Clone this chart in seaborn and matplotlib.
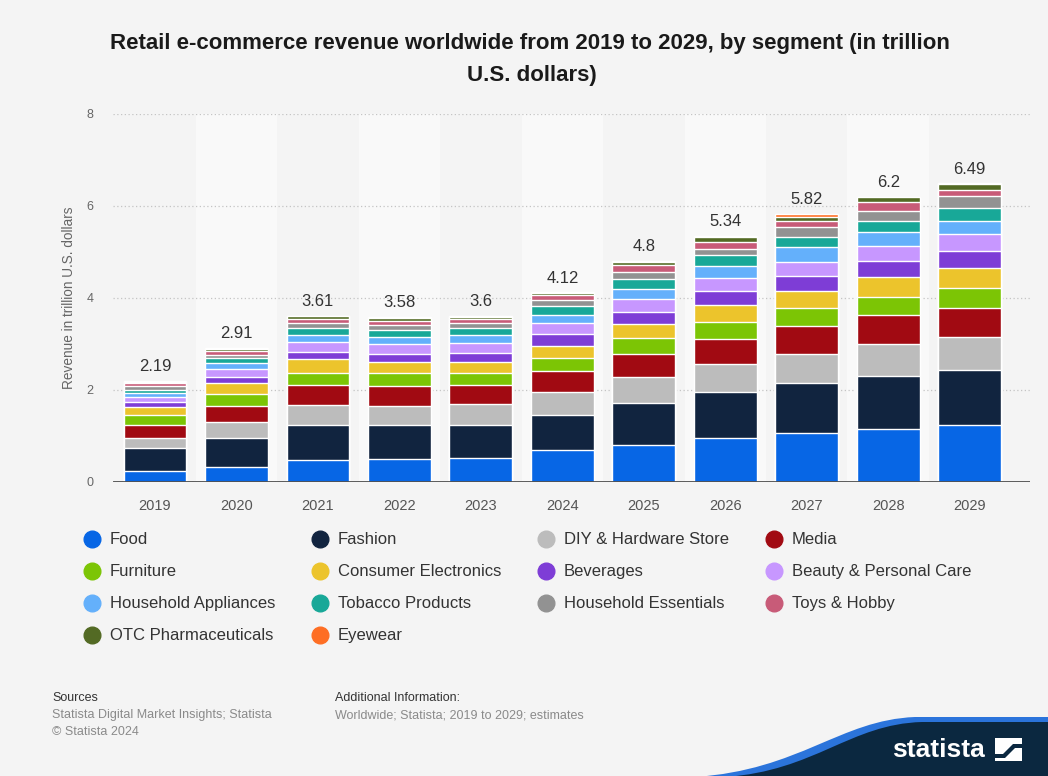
import matplotlib
matplotlib.use("Agg")
import numpy as np
import pandas as pd
import matplotlib.pyplot as plt
import seaborn as sns
from matplotlib.lines import Line2D
from matplotlib.path import Path
from matplotlib.patches import PathPatch, Polygon

# ---- data (trillion U.S. dollars) ----
years = ["2019", "2020", "2021", "2022", "2023", "2024", "2025", "2026", "2027", "2028", "2029"]
total_labels = ["2.19", "2.91", "3.61", "3.58", "3.6", "4.12", "4.8", "5.34", "5.82", "6.2", "6.49"]

food        = [0.23, 0.32, 0.47, 0.50, 0.53, 0.69, 0.81, 0.96, 1.06, 1.15, 1.24]
fashion     = [0.51, 0.64, 0.77, 0.73, 0.71, 0.77, 0.91, 0.99, 1.09, 1.15, 1.19]
diy         = [0.22, 0.34, 0.43, 0.43, 0.46, 0.49, 0.56, 0.61, 0.63, 0.70, 0.73]
media       = [0.28, 0.36, 0.43, 0.43, 0.40, 0.46, 0.50, 0.55, 0.61, 0.62, 0.62]
furniture   = [0.22, 0.25, 0.28, 0.27, 0.28, 0.28, 0.35, 0.37, 0.39, 0.41, 0.44]
electronics = [0.18, 0.24, 0.30, 0.24, 0.22, 0.27, 0.30, 0.37, 0.37, 0.42, 0.43]
beverages   = [0.09, 0.13, 0.15, 0.18, 0.21, 0.25, 0.27, 0.31, 0.33, 0.35, 0.37]
beauty      = [0.11, 0.18, 0.22, 0.21, 0.22, 0.24, 0.28, 0.27, 0.31, 0.33, 0.37]
appliances  = [0.09, 0.12, 0.15, 0.16, 0.16, 0.19, 0.21, 0.27, 0.31, 0.31, 0.29]
tobacco     = [0.08, 0.12, 0.15, 0.16, 0.16, 0.19, 0.22, 0.24, 0.23, 0.24, 0.27]
essentials  = [0.07, 0.07, 0.10, 0.10, 0.11, 0.12, 0.16, 0.13, 0.22, 0.21, 0.26]
toys        = [0.08, 0.08, 0.09, 0.09, 0.09, 0.12, 0.15, 0.14, 0.12, 0.19, 0.14]
otc         = [0.02, 0.05, 0.06, 0.07, 0.04, 0.04, 0.07, 0.11, 0.10, 0.11, 0.13]
eyewear     = [0.01, 0.01, 0.01, 0.01, 0.01, 0.01, 0.01, 0.02, 0.05, 0.01, 0.01]

segments = ["Food", "Fashion", "DIY & Hardware Store", "Media", "Furniture",
            "Consumer Electronics", "Beverages", "Beauty & Personal Care",
            "Household Appliances", "Tobacco Products", "Household Essentials",
            "Toys & Hobby", "OTC Pharmaceuticals", "Eyewear"]
series = [food, fashion, diy, media, furniture, electronics, beverages, beauty,
          appliances, tobacco, essentials, toys, otc, eyewear]
palette = ["#0766e5", "#11243f", "#bcbcbc", "#a10a12", "#7cc505", "#ecc42c",
           "#7e3dd6", "#c797ff", "#64b0fb", "#18a898", "#929292", "#c85b78",
           "#536a24", "#fe6e24"]

df = pd.DataFrame(dict(zip(segments, series)), index=years)
stacked = df.cumsum(axis=1)

# ---- figure ----
sns.set_theme(style="white")
plt.rcParams["font.family"] = ["Liberation Sans", "DejaVu Sans"]

W, H = 1048, 776
bg = "#f4f4f4"
fig = plt.figure(figsize=(W / 100, H / 100), dpi=100, facecolor=bg)
ax = fig.add_axes([113 / W, 1 - 482 / H, (1030 - 113) / W, (482 - 114) / H])
ax.set_facecolor(bg)

# alternating column bands
for i in range(len(years)):
    if i % 2 == 1:
        ax.axvspan(i - 0.5, i + 0.5, color="#f9f9f9", zorder=0, lw=0)

# stacked bars: draw cumulative heights from the top segment down
for name, col in zip(reversed(segments), reversed(palette)):
    sns.barplot(x=years, y=stacked[name].values, color=col, saturation=1,
                width=0.77, edgecolor="white", linewidth=1.0, errorbar=None,
                ax=ax, zorder=3)

tops = stacked[segments[-1]].values
for i, (t, lab) in enumerate(zip(tops, total_labels)):
    ax.annotate(lab, (i, t), xytext=(0, 5), textcoords="offset points",
                ha="center", va="bottom", fontsize=12, color="#333333")

ax.set_ylim(0, 8)
ax.set_xlim(-0.515, 10.74)
ax.set_yticks([0, 2, 4, 6, 8])
ax.yaxis.grid(True, linestyle=(0, (1, 2)), color="#c4c4c4", linewidth=0.9, zorder=1)
ax.xaxis.grid(False)
ax.set_axisbelow(True)
for s in ax.spines.values():
    s.set_visible(False)
ax.axhline(0, color="#4d4d4d", lw=2, zorder=5)
ax.tick_params(axis="y", length=0, pad=14, labelsize=9, labelcolor="#666666")
ax.tick_params(axis="x", length=0, pad=12, labelsize=10.5, labelcolor="#555555")
ax.set_xlabel("")
ax.set_ylabel("Revenue in trillion U.S. dollars", fontsize=9.8, color="#666666")
ax.yaxis.set_label_coords(-0.0405, 0.5)

# ---- title ----
fig.text(530 / W, 1 - 43 / H,
         "Retail e-commerce revenue worldwide from 2019 to 2029, by segment (in trillion",
         ha="center", va="center", fontsize=16, fontweight="bold", color="#1a1a1a")
fig.text(532 / W, 1 - 75 / H, "U.S. dollars)",
         ha="center", va="center", fontsize=16, fontweight="bold", color="#1a1a1a")

# ---- legend (4 columns, filled row by row) ----
order = [0, 4, 8, 12, 1, 5, 9, 13, 2, 6, 10, 3, 7, 11]
handles = [Line2D([], [], marker="o", linestyle="", markersize=12,
                  markerfacecolor=palette[k], markeredgecolor=palette[k]) for k in order]
labels = [segments[k] for k in order]
fig.legend(handles, labels, ncol=4, loc="upper left",
           bbox_to_anchor=(75 / W, 1 - 524 / H), frameon=False, fontsize=12,
           handlelength=1.0, handletextpad=0.57, columnspacing=2.2,
           labelspacing=1.02, borderpad=0, labelcolor="#333333")

# ---- footer ----
fig.text(52 / W, 1 - 698 / H, "Sources", fontsize=9, color="#333333", va="center")
fig.text(52 / W, 1 - 715 / H, "Statista Digital Market Insights; Statista",
         fontsize=9, color="#8a8a8a", va="center")
fig.text(52 / W, 1 - 732 / H, "\u00a9 Statista 2024", fontsize=9, color="#8a8a8a", va="center")
fig.text(335 / W, 1 - 698 / H, "Additional Information:", fontsize=9, color="#333333", va="center")
fig.text(335 / W, 1 - 715 / H, "Worldwide; Statista; 2019 to 2029; estimates",
         fontsize=9, color="#8a8a8a", va="center")

# ---- brand wave ----
def fp(x, y):
    return (x / W, 1 - y / H)

blue = Path([fp(695, 777), fp(800, 770), fp(840, 720), fp(915, 717),
             fp(1049, 717), fp(1049, 777), fp(695, 777)],
            [Path.MOVETO, Path.CURVE4, Path.CURVE4, Path.CURVE4,
             Path.LINETO, Path.LINETO, Path.CLOSEPOLY])
fig.add_artist(PathPatch(blue, transform=fig.transFigure, fc="#2b74db", ec="none"))
navy = Path([fp(725, 777), fp(815, 771), fp(850, 724), fp(922, 722),
             fp(1049, 722), fp(1049, 777), fp(725, 777)],
            [Path.MOVETO, Path.CURVE4, Path.CURVE4, Path.CURVE4,
             Path.LINETO, Path.LINETO, Path.CLOSEPOLY])
fig.add_artist(PathPatch(navy, transform=fig.transFigure, fc="#0b2840", ec="none"))
fig.text(938 / W, 1 - 750 / H, "statista", ha="center", va="center",
         fontsize=19, fontweight="bold", color="white")
icon = Polygon([fp(995, 738), fp(1022, 738), fp(1022, 761), fp(995, 761)],
               closed=True, transform=fig.transFigure, fc="white", ec="none")
fig.add_artist(icon)
cut = Polygon([fp(995, 754), fp(1003, 754), fp(1013, 744), fp(1022, 744),
               fp(1022, 748), fp(1015, 748), fp(1005, 758), fp(995, 758)],
              closed=True, transform=fig.transFigure, fc="#0b2840", ec="none")
fig.add_artist(cut)

fig.savefig("out.png", dpi=100, facecolor=bg)
